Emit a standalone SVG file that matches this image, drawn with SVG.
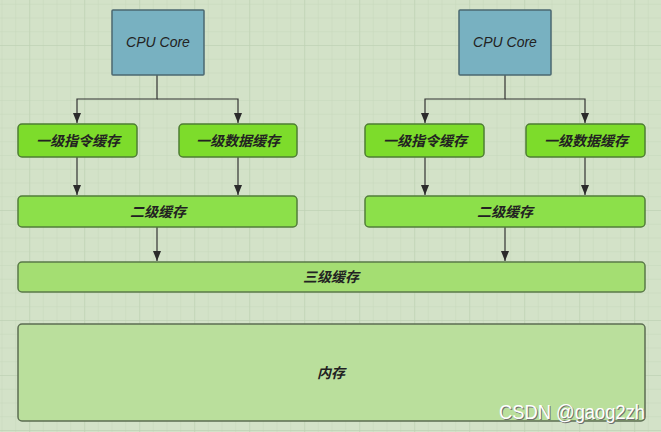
<svg xmlns="http://www.w3.org/2000/svg" width="661" height="432" viewBox="0 0 661 432">
<defs>
<pattern id="minor" x="1.5" y="3.75" width="13.75" height="13.75" patternUnits="userSpaceOnUse">
<path d="M0 0H13.75M0 0V13.75" fill="none" stroke="#c6d7bb" stroke-width="1"/>
</pattern>
<pattern id="major" x="29.3" y="45" width="55" height="55" patternUnits="userSpaceOnUse">
<path d="M0 0H55M0 0V55" fill="none" stroke="#bccfb1" stroke-width="1"/>
</pattern>
<marker id="arr" viewBox="0 0 10 8" refX="10" refY="4" markerWidth="10" markerHeight="8" markerUnits="userSpaceOnUse" orient="auto">
<path d="M0 0L10 4L0 8Z" fill="#2b2b2b"/>
</marker>
<style>
.cpu{fill:#78b1c1;stroke:#4b6870;stroke-width:1.5}
.l1{fill:#7ddc2b;stroke:#4e7d33;stroke-width:1.5}
.l2{fill:#8ce04a;stroke:#527d3a;stroke-width:1.5}
.l3{fill:#a4de72;stroke:#5a7a48;stroke-width:1.5}
.mem{fill:#badf9c;stroke:#5c6e52;stroke-width:1.5}
.t{font-family:"Liberation Sans","Noto Sans CJK SC",sans-serif;font-style:italic;font-size:14px;fill:#222;text-anchor:middle;dominant-baseline:central}
.zh{font-weight:bold}
.c{fill:none;stroke:#333;stroke-width:1.2}
.wm{font-family:"Liberation Sans Narrow","Liberation Sans",sans-serif;font-size:20px;text-anchor:end}
</style>
</defs>
<rect width="661" height="432" fill="#d3e2c8"/>
<rect width="661" height="432" fill="url(#minor)"/>
<rect width="661" height="432" fill="url(#major)"/>
<g id="connectors">
<path class="c" d="M157 75V99H77V123" marker-end="url(#arr)"/>
<path class="c" d="M157 99H238V123" marker-end="url(#arr)"/>
<path class="c" d="M77 157V195" marker-end="url(#arr)"/>
<path class="c" d="M238 157V195" marker-end="url(#arr)"/>
<path class="c" d="M505 75V99H425V123" marker-end="url(#arr)"/>
<path class="c" d="M505 99H585V123" marker-end="url(#arr)"/>
<path class="c" d="M425 157V195" marker-end="url(#arr)"/>
<path class="c" d="M585 157V195" marker-end="url(#arr)"/>
<path class="c" d="M157 227V261" marker-end="url(#arr)"/>
<path class="c" d="M505 227V261" marker-end="url(#arr)"/>
</g>
<g id="cpu1"><rect class="cpu" x="112" y="10" width="92" height="65" rx="1"/><text class="t" x="158" y="42">CPU Core</text></g>
<g id="cpu2"><rect class="cpu" x="459" y="10" width="92" height="65" rx="1"/><text class="t" x="505" y="42">CPU Core</text></g>
<g id="l1i-1"><rect class="l1" x="18" y="124" width="119" height="33" rx="4"/><text class="t zh" x="78" y="141">一级指令缓存</text></g>
<g id="l1d-1"><rect class="l1" x="179" y="124" width="118" height="33" rx="4"/><text class="t zh" x="238" y="141">一级数据缓存</text></g>
<g id="l1i-2"><rect class="l1" x="365" y="124" width="119" height="33" rx="4"/><text class="t zh" x="425" y="141">一级指令缓存</text></g>
<g id="l1d-2"><rect class="l1" x="526" y="124" width="119" height="33" rx="4"/><text class="t zh" x="586" y="141">一级数据缓存</text></g>
<g id="l2-1"><rect class="l2" x="18" y="196" width="279" height="31" rx="4"/><text class="t zh" x="158" y="212">二级缓存</text></g>
<g id="l2-2"><rect class="l2" x="365" y="196" width="280" height="31" rx="4"/><text class="t zh" x="505" y="212">二级缓存</text></g>
<g id="l3"><rect class="l3" x="18" y="262" width="627" height="30" rx="4"/><text class="t zh" x="331" y="277">三级缓存</text></g>
<g id="mem"><rect class="mem" x="18" y="324" width="627" height="97" rx="4"/><text class="t zh" x="331" y="373">内存</text></g>
<text class="wm" x="646" y="420" fill="#6f6f6f" textLength="146" lengthAdjust="spacingAndGlyphs">CSDN @gaog2zh</text>
<text class="wm" x="645" y="419" fill="#ffffff" textLength="146" lengthAdjust="spacingAndGlyphs">CSDN @gaog2zh</text>
</svg>
